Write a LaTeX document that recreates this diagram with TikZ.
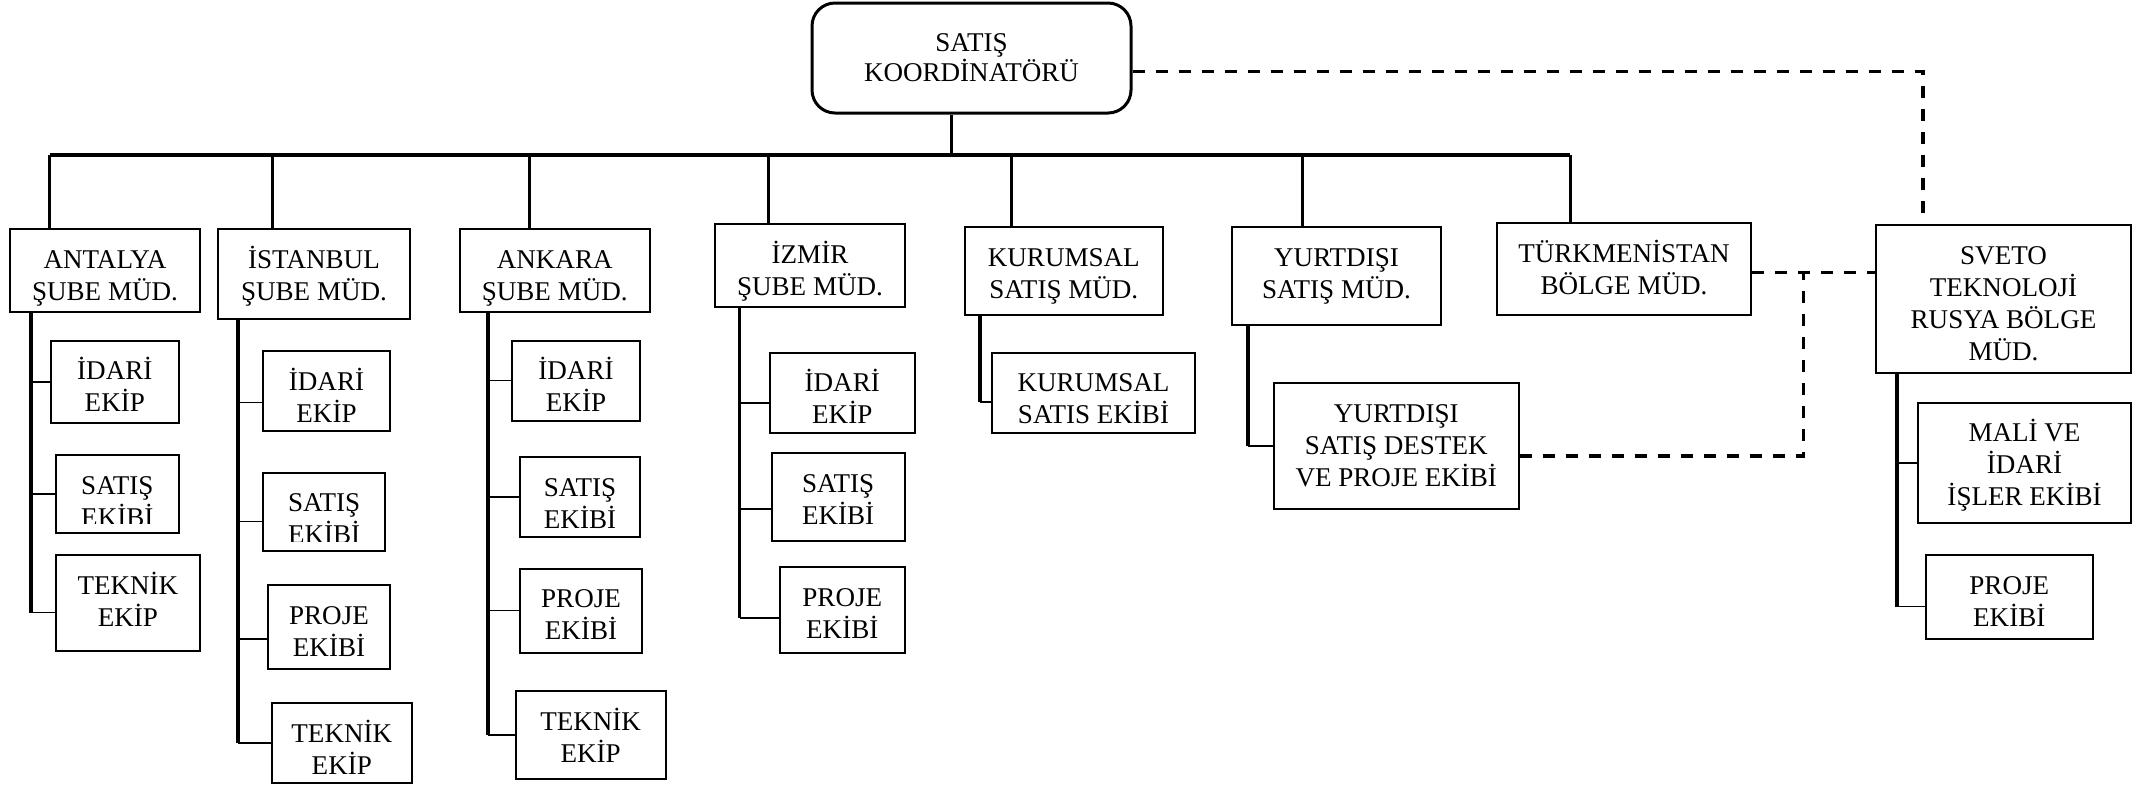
\documentclass[tikz,border=0pt]{standalone}
\usepackage{fontspec}
\setmainfont{Liberation Serif}
\usetikzlibrary{calc}

% text settings for every box
\newcommand\obfont{\fontsize{7.7pt}{9.1pt}\selectfont}
\newcommand\obtext{}
\newcommand\obclip{}
\newcommand\obshift{1.1mm}

% \orgbox[options]{name}{x1}{y1}{x2}{y2}{text}: a box given by its corners,
% its text hung from the top edge
\newcommand\orgbox[7][]{%
  \renewcommand\obtext{#7}%
  \renewcommand\obclip{}%
  \renewcommand\obshift{1.1mm}%
  \pgfmathsetlengthmacro\obw{(#5-#3)*0.1mm}%
  \pgfmathsetlengthmacro\obh{(#6-#4)*0.1mm}%
  \pgfmathsetmacro\obx{(#3+#5)/2}%
  \pgfmathsetmacro\oby{(#4+#6)/2}%
  \node[obox,#1,minimum width=\obw,minimum height=\obh] (#2) at (\obx,\oby) {};%
}

\tikzset{
  otext/.style={anchor=north, align=center, inner sep=0pt, font=\obfont,
    minimum width=0pt, minimum height=0pt, draw=none, rounded corners=0pt,
    path picture={}},
  obox/.style={draw, line width=0.2mm, inner sep=0pt, rectangle,
    path picture={\obclip
      \node[otext] at ([yshift=-\obshift]path picture bounding box.north)
        {\rule{0pt}{1em}\obtext};}},
  obcut/.code={\renewcommand\obclip{\clip ([yshift=#1]path picture bounding box.south west)
      rectangle (path picture bounding box.north east);}},
  obdrop/.code={\renewcommand\obshift{#1}},
  obskip/.code={\renewcommand\obfont{\fontsize{7.7pt}{#1}\selectfont}},
  topbox/.style={line width=0.3mm, rounded corners=2.3mm, obdrop=2mm, obskip=8.6pt},
  bus/.style={line width=0.42mm},
  drop/.style={line width=0.3mm},
  stem/.style={line width=0.35mm},
  tick/.style={line width=0.14mm},
  link/.style={line width=0.33mm, dash pattern=on 1.2mm off 1.1mm},
}

\begin{document}
\begin{tikzpicture}[x=0.1mm,y=-0.1mm]
\useasboundingbox (0,0) rectangle (2152,786);

% top level
\orgbox[topbox]{coord}{812}{3}{1131}{113}{SATIŞ\\KOORDİNATÖRÜ}

% second level
\orgbox{antalya}{10}{229}{200}{312}{ANTALYA\\ŞUBE MÜD.}
\orgbox{istanbul}{218}{229}{410}{319}{İSTANBUL\\ŞUBE MÜD.}
\orgbox{ankara}{459.5}{229}{650}{312}{ANKARA\\ŞUBE MÜD.}
\orgbox{izmir}{715}{224}{905}{307}{İZMİR\\ŞUBE MÜD.}
\orgbox{kurumsal}{964.6}{227}{1163}{315}{KURUMSAL\\SATIŞ MÜD.}
\orgbox{yurtdisi}{1232}{227}{1441}{325}{YURTDIŞI\\SATIŞ MÜD.}
\orgbox{turk}{1497}{223}{1751}{315}{TÜRKMENİSTAN\\BÖLGE MÜD.}
\orgbox{sveto}{1876}{225}{2131}{372.7}{SVETO\\TEKNOLOJİ\\RUSYA BÖLGE\\MÜD.}

% teams
\orgbox{a1}{51}{340.7}{178.6}{423}{İDARİ\\EKİP}
\orgbox[obcut=0.95mm]{a2}{56}{455}{178.6}{532.7}{SATIŞ\\EKİBİ}
\orgbox{a3}{55.8}{555}{200}{651}{TEKNİK\\EKİP}

\orgbox{i1}{263}{351}{390}{431}{İDARİ\\EKİP}
\orgbox[obcut=0.9mm,obdrop=1.03mm]{i2}{263.3}{472.7}{385}{550.7}{SATIŞ\\EKİBİ}
\orgbox{i3}{268}{585}{390}{669}{PROJE\\EKİBİ}
\orgbox{i4}{272}{703}{411.6}{782.7}{TEKNİK\\EKİP}

\orgbox{k1}{512}{340.7}{640}{420.7}{İDARİ\\EKİP}
\orgbox{k2}{520}{457}{640}{537}{SATIŞ\\EKİBİ}
\orgbox{k3}{520}{568.7}{642}{652.7}{PROJE\\EKİBİ}
\orgbox{k4}{515.6}{691}{665.6}{779}{TEKNİK\\EKİP}

\orgbox{z1}{769.8}{352.7}{914.7}{433.3}{İDARİ\\EKİP}
\orgbox{z2}{771.8}{453}{904.5}{540.7}{SATIŞ\\EKİBİ}
\orgbox{z3}{780}{567}{904.5}{653}{PROJE\\EKİBİ}

\orgbox{u1}{992}{352.7}{1195}{433}{KURUMSAL\\SATIS EKİBİ}

\orgbox{y1}{1274}{383}{1518.5}{509}{YURTDIŞI\\SATIŞ DESTEK\\VE PROJE EKİBİ}

\orgbox{s1}{1918}{402.7}{2131}{523}{MALİ VE\\İDARİ\\İŞLER EKİBİ}
\orgbox{s2}{1926}{555}{2092.5}{639}{PROJE\\EKİBİ}

% main bus
\coordinate (busy) at (0,155);
\coordinate (r0) at ([xshift=-2.05mm]coord.south);
\coordinate (dA) at ([xshift=4.07mm]antalya.north west);
\coordinate (dI) at ([xshift=5.5mm]istanbul.north west);
\coordinate (dK) at ([xshift=7.05mm]ankara.north west);
\coordinate (dZ) at ([xshift=5.4mm]izmir.north west);
\coordinate (dU) at ([xshift=4.74mm]kurumsal.north west);
\coordinate (dY) at ([xshift=7.1mm]yurtdisi.north west);
\coordinate (dT) at ([xshift=7.4mm]turk.north west);

\draw[drop] (r0) -- (r0 |- busy);
\draw[bus] (dA |- busy) -- (dT |- busy);
\foreach \d in {dA,dI,dK,dZ,dU,dY,dT}
  \draw[drop] (\d |- busy) -- (\d);

% branch stems and ticks
\coordinate (sA) at ([xshift=2.2mm]antalya.south west);
\coordinate (tA3) at ([yshift=-0.97mm]a3.west);
\draw[stem] (sA) -- (sA |- tA3);
\draw[tick] (sA |- a1.west) -- (a1.west);
\draw[tick] (sA |- a2.west) -- (a2.west);
\draw[tick] (sA |- tA3) -- (tA3);

\coordinate (sI) at ([xshift=2.1mm]istanbul.south west);
\coordinate (tI1) at ([yshift=-1.17mm]i1.west);
\coordinate (tI2) at ([yshift=-1.0mm]i2.west);
\coordinate (tI3) at ([yshift=-1.2mm]i3.west);
\draw[stem] (sI) -- (sI |- i4.west);
\draw[tick] (sI |- tI1) -- (tI1);
\draw[tick] (sI |- tI2) -- (tI2);
\draw[tick] (sI |- tI3) -- (tI3);
\draw[tick] (sI |- i4.west) -- (i4.west);

\coordinate (sK) at ([xshift=2.95mm]ankara.south west);
\draw[stem] (sK) -- (sK |- k4.west);
\foreach \b in {k1,k2,k3,k4}
  \draw[tick] (sK |- \b.west) -- (\b.west);

\coordinate (sZ) at ([xshift=2.57mm]izmir.south west);
\coordinate (tZ1) at ([yshift=-1.0mm]z1.west);
\coordinate (tZ2) at ([yshift=-1.2mm]z2.west);
\coordinate (tZ3) at ([yshift=-0.8mm]z3.west);
\draw[stem] (sZ) -- (sZ |- tZ3);
\draw[tick] (sZ |- tZ1) -- (tZ1);
\draw[tick] (sZ |- tZ2) -- (tZ2);
\draw[tick] (sZ |- tZ3) -- (tZ3);

\coordinate (sU) at ([xshift=1.64mm]kurumsal.south west);
\coordinate (tU1) at ([yshift=-0.9mm]u1.west);
\draw[stem] (sU) -- (sU |- tU1);
\draw[tick] (sU |- tU1) -- (tU1);

\coordinate (sY) at ([xshift=1.7mm]yurtdisi.south west);
\draw[stem] (sY) -- (sY |- y1.west);
\draw[tick] (sY |- y1.west) -- (y1.west);

\coordinate (sS) at ([xshift=2.2mm]sveto.south west);
\coordinate (tS2) at ([yshift=-0.97mm]s2.west);
\draw[stem] (sS) -- (sS |- tS2);
\draw[tick] (sS |- s1.west) -- (s1.west);
\draw[tick] (sS |- tS2) -- (tS2);

% dashed links
\coordinate (lc) at ([yshift=-1.37mm]coord.east);
\coordinate (ls) at ([xshift=4.8mm]sveto.north west);
\draw[link] (lc) -| (ls);

\coordinate (lt) at ([yshift=-0.37mm]turk.east);
\draw[link] (lt) -- (lt -| sveto.west);

\coordinate (lv) at ($(lt)!0.42!(lt -| sveto.west)$);
\coordinate (ly) at ([yshift=-1mm]y1.east);
\draw[link] (ly) -| (lv);
\end{tikzpicture}
\end{document}
